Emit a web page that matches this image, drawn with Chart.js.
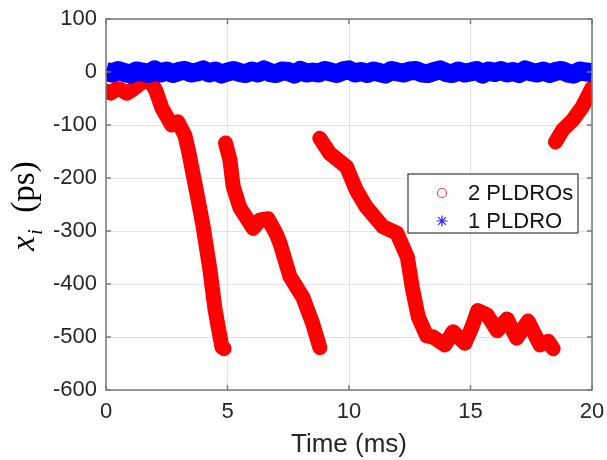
<!DOCTYPE html>
<html>
<head>
<meta charset="utf-8">
<script src="https://cdn.jsdelivr.net/npm/chart.js@4.4.0/dist/chart.umd.min.js"></script>
<style>
  body { margin: 0; background: #fff; }
</style>
</head>
<body>
<canvas id="chart" width="607" height="460"></canvas>
<script>
// ---- data ----
const xTicks = [0, 5, 10, 15, 20]
const yTicks = [100, 0, -100, -200, -300, -400, -500, -600]

// 2 PLDROs: four pieces, null marks a break
const redTime = [0, 0.2, 0.45, 0.6, 0.86, 1.1, 1.4, 1.8, 2.05, 2.3, 2.7, 2.96, 3.25, 3.4, 3.74, 4.0, 4.28, 4.49, 4.77, 4.86,
  4.86,
  4.92, 5.1, 5.23, 5.5, 6.05, 6.34, 6.67, 7.0, 7.16, 7.57, 8.1, 8.5, 8.8,
  8.8,
  8.8, 9.2, 9.9, 10.3, 10.7, 11.4, 11.97, 12.4, 12.6, 12.85, 13.2, 13.46, 13.95, 14.28, 14.77, 15.06, 15.3, 15.68, 16.1, 16.5, 16.9, 17.37, 17.86, 18.2, 18.4,
  18.4,
  18.5, 18.8, 19.2, 19.6, 20]
const redValue = [-36, -40, -31, -33, -40, -33, -22, -14, -35, -68, -100, -94, -120, -150, -229, -292, -374, -449, -519, -522,
  null,
  -134, -166, -215, -255, -295, -279, -277, -305, -323, -386, -425, -474, -520,
  null,
  -125, -153, -179, -223, -254, -292, -304, -349, -406, -462, -498, -500, -515, -490, -512, -481, -450, -458, -488, -466, -502, -470, -515, -508, -522,
  null,
  -132, -109, -91, -66, -30]

// 1 PLDRO: noisy band around zero
const blueTime = [0, 0.25, 0.5, 0.75, 1, 1.25, 1.5, 1.75, 2, 2.25, 2.5, 2.75, 3, 3.25, 3.5, 3.75, 4, 4.25, 4.5, 4.75,
  5, 5.25, 5.5, 5.75, 6, 6.25, 6.5, 6.75, 7, 7.25, 7.5, 7.75, 8, 8.25, 8.5, 8.75, 9, 9.25, 9.5, 9.75,
  10, 10.25, 10.5, 10.75, 11, 11.25, 11.5, 11.75, 12, 12.25, 12.5, 12.75, 13, 13.25, 13.5, 13.75, 14, 14.25, 14.5, 14.75,
  15, 15.25, 15.5, 15.75, 16, 16.25, 16.5, 16.75, 17, 17.25, 17.5, 17.75, 18, 18.25, 18.5, 18.75, 19, 19.25, 19.5, 19.75, 20]
const blueValue = [1, -2, 3, -1, -4, 2, 0, -3, 4, -2, 2, -3, 1, 3, -2, 0, 4, -2, 2, -4,
  0, 3, -1, -3, 2, -2, 4, -1, -3, 2, 1, -4, 3, -2, 0, -2, 3, 0, -3, 2,
  4, -2, 1, -3, 2, -1, -4, 3, 0, -2, 2, 3, -2, -3, 1, 4, -1, -3, 2, -2,
  0, 3, -4, 2, -1, 3, -2, 1, -3, 4, 0, -2, 2, -3, 1, 3, -2, -4, 2, 0, -1]

const seriesNames = ['2 PLDROs', '1 PLDRO']

const toPoints = (xs, ys) => xs.map((x, i) => ({ x: x, y: ys[i] }))

const textColor = '#262626'
const gridColor = 'rgba(0,0,0,0.11)'

// box, inner ticks, legend and y label drawn by hand (MATLAB look)
const decorPlugin = {
  id: 'decor',
  afterDatasetsDraw(chart) {
    const { ctx, chartArea: a, scales: { x, y } } = chart
    ctx.save()
    ctx.strokeStyle = '#7a7a7a'
    ctx.lineWidth = 1.5
    ctx.strokeRect(a.left, a.top, a.width, a.height)
    ctx.beginPath()
    x.ticks.forEach(t => {
      const px = x.getPixelForValue(t.value)
      ctx.moveTo(px, a.bottom); ctx.lineTo(px, a.bottom - 5)
      ctx.moveTo(px, a.top); ctx.lineTo(px, a.top + 5)
    })
    y.ticks.forEach(t => {
      const py = y.getPixelForValue(t.value)
      ctx.moveTo(a.left, py); ctx.lineTo(a.left + 5, py)
      ctx.moveTo(a.right, py); ctx.lineTo(a.right - 5, py)
    })
    ctx.stroke()

    // legend
    const lx = a.right - 184, ly = a.top + 155, lw = 170, lh = 59
    ctx.fillStyle = '#fff'
    ctx.fillRect(lx, ly, lw, lh)
    ctx.strokeStyle = '#3a3a3a'
    ctx.lineWidth = 1.2
    ctx.strokeRect(lx, ly, lw, lh)
    ctx.font = '22px "Liberation Sans", Arial, sans-serif'
    ctx.textBaseline = 'middle'
    ctx.textAlign = 'left'
    ctx.fillStyle = '#111'
    const ds = chart.data.datasets
    const red = ds.find(d => d.label === seriesNames[0])
    const blue = ds.find(d => d.label === seriesNames[1])
    const r1 = ly + 19, r2 = ly + 47
    ctx.strokeStyle = '#e8474f'
    ctx.lineWidth = 1.2
    ctx.beginPath(); ctx.arc(lx + 34, r1, 4.5, 0, Math.PI * 2); ctx.stroke()
    ctx.fillText(red.label, lx + 60, r1 + 1)
    ctx.strokeStyle = '#2323ff'
    Chart.helpers.drawPoint(ctx, { pointStyle: 'star', radius: 5.5, borderWidth: 1.2, rotation: 0 }, lx + 34, r2)
    ctx.fillText(blue.label, lx + 60, r2 + 1)

    // y axis label: x_i (ps)
    ctx.fillStyle = '#000'
    ctx.translate(34, (a.top + a.bottom) / 2 + 2)
    ctx.rotate(-Math.PI / 2)
    ctx.textBaseline = 'alphabetic'
    const big = 'italic 33px "Liberation Serif", "Times New Roman", serif'
    const sub = 'italic 21px "Liberation Serif", "Times New Roman", serif'
    const rest = '33px "Liberation Serif", "Times New Roman", serif'
    ctx.font = big; const w1 = ctx.measureText('x').width
    ctx.font = sub; const w2 = ctx.measureText('i').width
    ctx.font = rest; const w3 = ctx.measureText('  (ps)').width
    let cx = -(w1 + w2 + w3) / 2
    ctx.font = big; ctx.fillText('x', cx, 0); cx += w1 + 1
    ctx.font = sub; ctx.fillText('i', cx, 8); cx += w2
    ctx.font = rest; ctx.fillText('  (ps)', cx, 0)
    ctx.restore()
  }
}

new Chart(document.getElementById('chart'), {
  type: 'scatter',
  data: {
    datasets: [
      {
        label: seriesNames[1],
        data: toPoints(blueTime, blueValue),
        showLine: true,
        borderColor: '#0000ff',
        borderWidth: 19,
        borderJoinStyle: 'round',
        borderCapStyle: 'butt',
        pointStyle: 'star',
        pointRadius: 4,
        pointBorderColor: '#0000ff',
        pointBorderWidth: 1,
        order: 0
      },
      {
        label: seriesNames[0],
        data: toPoints(redTime, redValue),
        showLine: true,
        spanGaps: false,
        borderColor: '#ff0000',
        borderWidth: 15,
        borderJoinStyle: 'round',
        borderCapStyle: 'round',
        pointRadius: 0,
        order: 1
      }
    ]
  },
  plugins: [decorPlugin],
  options: {
    responsive: false,
    animation: false,
    layout: { padding: { top: 19, right: 15, left: 0, bottom: 0 } },
    plugins: {
      legend: { display: false },
      tooltip: { enabled: false }
    },
    scales: {
      x: {
        type: 'linear',
        min: 0,
        max: 20,
        afterFit: s => { s.height = 70; s.paddingRight = 0; s.paddingLeft = 0 },
        afterBuildTicks: s => { s.ticks = xTicks.map(v => ({ value: v })) },
        grid: { color: gridColor, drawTicks: false },
        border: { display: false },
        ticks: {
          padding: 9,
          color: textColor,
          font: { family: '"Liberation Sans", Arial, sans-serif', size: 22 }
        },
        title: {
          display: true,
          text: 'Time (ms)',
          color: textColor,
          padding: { top: 0, bottom: 0 },
          font: { family: '"Liberation Sans", Arial, sans-serif', size: 26 }
        }
      },
      y: {
        type: 'linear',
        min: -600,
        max: 100,
        afterFit: s => { s.width = 106; s.paddingTop = 0; s.paddingBottom = 0 },
        afterBuildTicks: s => { s.ticks = yTicks.map(v => ({ value: v })) },
        grid: { color: gridColor, drawTicks: false },
        border: { display: false },
        ticks: {
          padding: 9,
          color: textColor,
          font: { family: '"Liberation Sans", Arial, sans-serif', size: 22 }
        }
      }
    }
  }
})
</script>
</body>
</html>
